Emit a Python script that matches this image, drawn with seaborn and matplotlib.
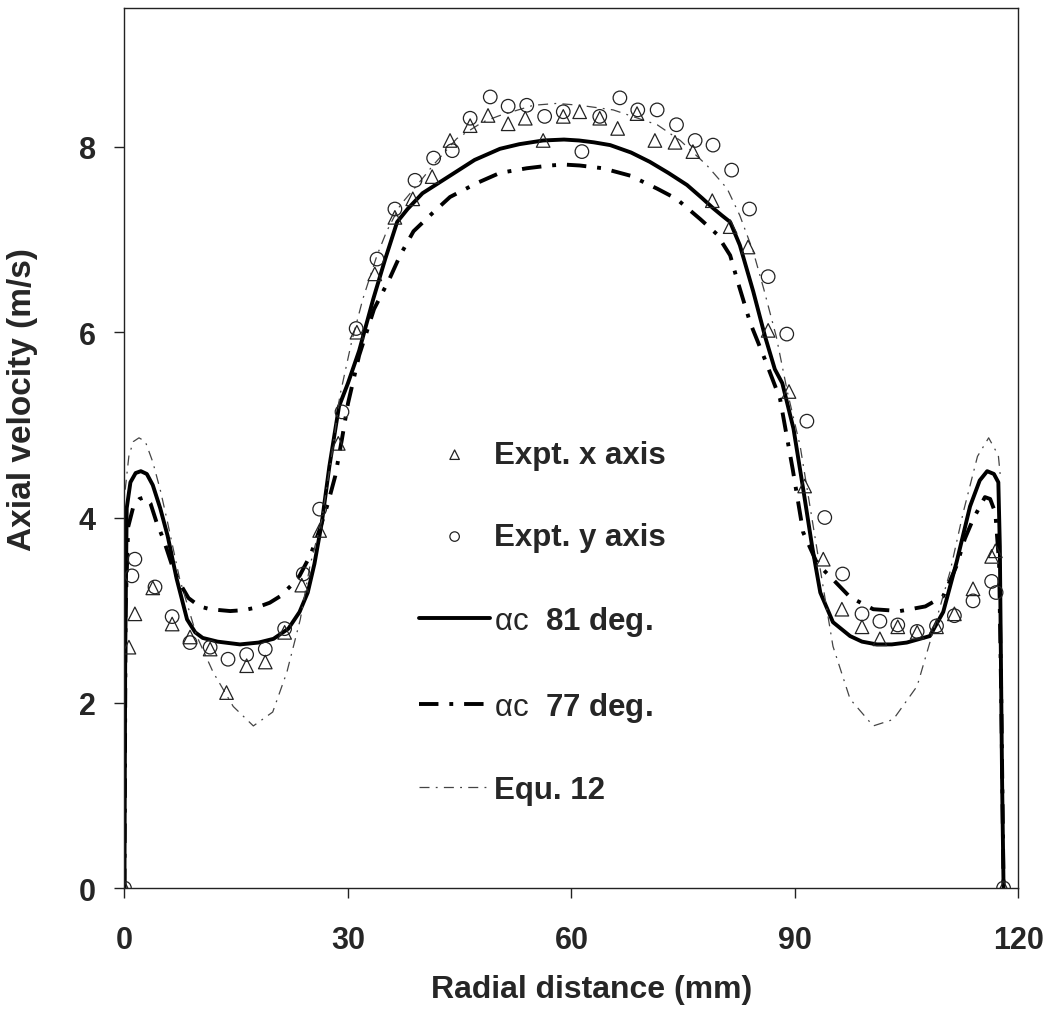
import matplotlib
matplotlib.use("Agg")
import matplotlib.pyplot as plt
import seaborn as sns

# ---- data ----
# alpha_c = 81 deg. (thick solid)
x_81 = [0, 0.1, 0.3, 0.8, 1.5, 2.2, 3.0, 3.8, 4.8, 5.8, 7.0, 8.4, 9.5, 10.5, 12.5, 15.5,
        18.0, 20.0, 22.0, 23.5, 24.6, 25.5, 26.5, 27.5, 28.8, 30.0, 31.5, 33.4, 35.0, 36.6,
        38.0, 40.0, 43.7, 47.0, 50.4, 53.0, 56.2, 59.0, 61.0, 63.0, 65.2, 68.0, 70.5, 73.0,
        75.5, 77.5, 79.0, 80.2, 81.3, 82.6, 84.4, 86.0, 87.3, 88.3, 89.8, 91.1, 92.3, 93.4,
        95.1, 97.4, 99.0, 101.0, 103.0, 105.0, 108.1, 109.9, 111.7, 113.5, 114.8, 115.8,
        116.7, 117.3, 117.5, 117.7, 117.8, 118.0]
y_81 = [0, 2.5, 4.1, 4.38, 4.48, 4.5, 4.47, 4.35, 4.1, 3.8, 3.34, 2.9, 2.76, 2.7, 2.66, 2.63,
        2.65, 2.69, 2.8, 2.98, 3.19, 3.5, 3.95, 4.55, 5.2, 5.45, 5.8, 6.36, 6.79, 7.19,
        7.33, 7.5, 7.69, 7.86, 7.98, 8.03, 8.07, 8.08, 8.07, 8.05, 8.02, 7.94, 7.84, 7.72,
        7.59, 7.45, 7.34, 7.26, 7.19, 6.94, 6.44, 5.95, 5.6, 5.45, 4.96, 4.31, 3.69, 3.19,
        2.87, 2.72, 2.66, 2.63, 2.63, 2.65, 2.72, 2.98, 3.52, 4.12, 4.4, 4.5,
        4.47, 4.38, 3.69, 2.0, 1.17, 0]

# alpha_c = 77 deg. (thick dash-dot)
x_77 = [0, 0.15, 0.5, 1.2, 2.0, 2.75, 3.5, 4.3, 5.3, 6.4, 7.5, 8.6, 10.1, 11.5, 14.2, 16.0,
        17.8, 19.5, 20.9, 22.3, 23.5, 25.0, 26.2, 27.3, 28.3, 29.2, 30.0, 31.5, 33.5, 35.6,
        37.0, 38.8, 41.4, 43.7, 47.3, 50.4, 54.0, 57.1, 59.0, 61.1, 64.2, 67.9, 71.5, 74.1,
        77.3, 79.5, 81.3, 82.3, 84.0, 86.0, 88.0, 89.7, 91.1, 93.0, 95.0, 97.4, 100.5, 104.1,
        107.5, 109.9, 111.7, 112.8, 113.9, 115.5, 116.2, 116.9, 117.4, 117.7, 118.0]
y_77 = [0, 3.0, 3.9, 4.12, 4.2, 4.22, 4.15, 3.95, 3.75, 3.48, 3.28, 3.13, 3.04, 3.01, 2.99, 3.0,
        3.03, 3.08, 3.15, 3.26, 3.37, 3.6, 3.87, 4.15, 4.45, 4.85, 5.23, 5.75, 6.25, 6.58,
        6.83, 7.09, 7.29, 7.46, 7.61, 7.72, 7.77, 7.80, 7.81, 7.80, 7.77, 7.69, 7.55, 7.44,
        7.22, 7.06, 6.83, 6.55, 6.1, 5.7, 5.28, 4.52, 3.84, 3.5, 3.34, 3.14, 3.01, 2.99,
        3.04, 3.15, 3.48, 3.77, 3.98, 4.22, 4.2, 4.05, 3.5, 2.0, 0]

# Equ. 12 (thin dash-dot)
x_eq = [0.1, 0.6, 1.2, 1.95, 2.8, 3.8, 4.8, 5.7, 7.4, 9.7, 11.9, 14.6, 17.3, 19.9, 21.8, 23.6,
        24.9, 26.5, 28.0, 28.9, 30.5, 32.0, 33.9, 35.2, 37.0, 39.3, 41.4, 44.6, 48.1, 50.4,
        54.9, 58.0, 61.1, 65.6, 71.5, 74.6, 78.2, 80.9, 82.6, 84.4, 85.8, 87.5, 89.0, 90.7,
        92.3, 93.6, 95.1, 97.4, 100.5, 103.2, 106.4, 108.5, 110.8, 112.6, 114.5, 116.0,
        117.3, 117.6]
y_eq = [4.3, 4.67, 4.82, 4.86, 4.82, 4.6, 4.3, 3.98, 3.34, 2.72, 2.33, 1.96, 1.75, 1.90, 2.33, 2.90,
        3.48, 3.98, 4.77, 5.31, 5.9, 6.36, 6.83, 7.09, 7.37, 7.59, 7.8, 8.09, 8.27, 8.34,
        8.45, 8.47, 8.45, 8.40, 8.24, 8.07, 7.80, 7.55, 7.26, 6.87, 6.47, 5.95, 5.35, 4.77,
        3.98, 3.34, 2.61, 2.04, 1.75, 1.82, 2.18, 2.76, 3.41, 4.06, 4.66, 4.86,
        4.67, 4.42]

# Expt. x axis (triangles)
x_tri = [0, 0.6, 1.4, 3.8, 6.4, 8.8, 11.5, 13.7, 16.4, 18.9, 21.5, 23.8, 26.2, 28.7, 31.2,
         33.6, 36.3, 38.7, 41.3, 43.7, 46.4, 48.8, 51.5, 53.8, 56.2, 58.9, 61.1, 63.8, 66.2,
         68.8, 71.2, 73.9, 76.3, 78.9, 81.3, 83.7, 86.4, 89.2, 91.3, 93.8, 96.3, 99.0, 101.4,
         103.8, 106.4, 109.0, 111.4, 113.9, 116.4, 116.9, 118.0]
y_tri = [0, 2.60, 2.96, 3.24, 2.85, 2.71, 2.58, 2.11, 2.40, 2.44, 2.76, 3.27, 3.86, 4.80, 6.0,
         6.63, 7.24, 7.44, 7.68, 8.07, 8.23, 8.34, 8.25, 8.31, 8.07, 8.33, 8.38, 8.31, 8.20,
         8.36, 8.07, 8.05, 7.95, 7.42, 7.14, 6.92, 6.02, 5.36, 4.34, 3.55, 3.01, 2.82, 2.69,
         2.82, 2.76, 2.82, 2.96, 3.23, 3.58, 3.64, 0]

# Expt. y axis (circles)
x_circ = [0, 1.0, 1.4, 4.1, 6.4, 8.8, 11.5, 13.9, 16.4, 18.9, 21.5, 24.0, 26.2, 29.2, 31.1,
          33.9, 36.3, 39.0, 41.5, 44.0, 46.4, 49.1, 51.5, 54.0, 56.4, 58.9, 61.4, 63.8, 66.5,
          68.9, 71.5, 74.1, 76.6, 79.0, 81.5, 83.9, 86.4, 88.9, 91.6, 94.0, 96.4, 99.0, 101.4,
          103.8, 106.4, 109.0, 111.4, 113.9, 116.4, 117.0, 118.0]
y_circ = [0, 3.37, 3.55, 3.25, 2.93, 2.65, 2.60, 2.47, 2.52, 2.58, 2.80, 3.39, 4.09, 5.14, 6.04,
          6.79, 7.33, 7.64, 7.88, 7.96, 8.31, 8.54, 8.44, 8.45, 8.33, 8.38, 7.95, 8.33, 8.53,
          8.40, 8.40, 8.24, 8.07, 8.02, 7.75, 7.33, 6.60, 5.98, 5.04, 4.00, 3.39, 2.96, 2.88,
          2.84, 2.77, 2.83, 2.94, 3.10, 3.31, 3.19, 0]

x_ticks = [0, 30, 60, 90, 120]
y_ticks = [0, 2, 4, 6, 8]

legend_order = ["Expt. x axis", "Expt. y axis",
                r"$\mathrm{\alpha c}$  81 deg.", r"$\mathrm{\alpha c}$  77 deg.", "Equ. 12"]

sns.set_style("ticks")
plt.rcParams["font.family"] = ["Liberation Sans", "DejaVu Sans"]
plt.rcParams["font.weight"] = "bold"
# "αc" in the legend is set in regular weight
plt.rcParams["mathtext.fontset"] = "custom"
plt.rcParams["mathtext.rm"] = "Liberation Sans:weight=normal"

fig = plt.figure(figsize=(10.53, 10.12), dpi=100)
ax = fig.add_axes([0.1182, 0.1215, 0.849, 0.8696])

# experimental points
sns.scatterplot(x=x_tri, y=y_tri, marker="^", s=95, facecolors="none",
                edgecolor="#222222", linewidth=0.9, label=legend_order[0], ax=ax, zorder=3)
sns.scatterplot(x=x_circ, y=y_circ, marker="o", s=95, facecolors="none",
                edgecolor="#222222", linewidth=0.9, label=legend_order[1], ax=ax, zorder=3)

# model curves
sns.lineplot(x=x_81, y=y_81, sort=False, estimator=None, color="black", linewidth=2.8,
             label=legend_order[2], ax=ax)
sns.lineplot(x=x_77, y=y_77, sort=False, estimator=None, color="black", linewidth=2.8,
             linestyle=(0, (5, 2.8, 1, 2.8)), label=legend_order[3], ax=ax)
sns.lineplot(x=x_eq, y=y_eq, sort=False, estimator=None, color="#444444", linewidth=0.9,
             linestyle=(0, (8, 5, 1.5, 5)), label=legend_order[4], ax=ax)

ax.set_xlim(0, 120)
ax.set_ylim(0, 9.5)
ax.set_xticks(x_ticks)
ax.set_yticks(y_ticks)
ax.tick_params(axis="both", direction="out", length=7.5, width=1.0, color="#222222",
               labelsize=22)
ax.tick_params(axis="x", pad=19)
ax.tick_params(axis="y", pad=13)
for sp in ax.spines.values():
    sp.set_visible(True)
    sp.set_linewidth(1.0)
    sp.set_color("#222222")

ax.set_xlabel("Radial distance (mm)", fontsize=23, fontweight="bold")
ax.set_ylabel("Axial velocity (m/s)", fontsize=24, fontweight="bold")
ax.xaxis.set_label_coords(0.523, -0.098)
ax.yaxis.set_label_coords(-0.097, 0.556)

handles, labels = ax.get_legend_handles_labels()
lookup = dict(zip(labels, handles))
ax.legend([lookup[l] for l in legend_order], legend_order,
          loc="upper left", bbox_to_anchor=(0.3125, 0.527), frameon=False,
          fontsize=22.5, borderpad=0, handlelength=2.25, handletextpad=0.15,
          labelspacing=1.66, markerscale=0.7)

fig.savefig("out.png", dpi=100)
